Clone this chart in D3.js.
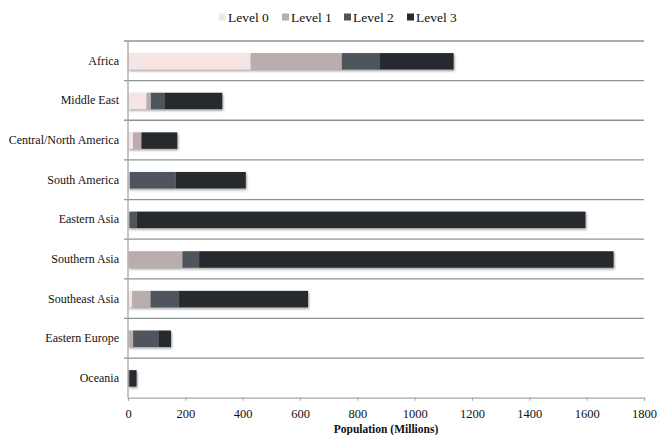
<!DOCTYPE html>
<html><head><meta charset="utf-8">
<script src="https://cdn.jsdelivr.net/npm/d3@7"></script>
<style>
html,body{margin:0;padding:0;background:#fff;}
svg{display:block;}
</style></head>
<body>
<svg id="chart" width="657" height="435"></svg>
<script>
const categories = ["Africa","Middle East","Central/North America","South America","Eastern Asia","Southern Asia","Southeast Asia","Eastern Europe","Oceania"];
const levels = ["Level 0","Level 1","Level 2","Level 3"];
const level0 = [428, 65, 18, 2, 2, 2, 15, 2, 0];
const level1 = [318, 15, 28, 5, 3, 188, 64, 16, 1];
const level2 = [131, 49, 2, 159, 25, 58, 99, 88, 6];
const level3 = [259, 200, 124, 245, 1566, 1446, 450, 44, 23];
const xTicks = [0,200,400,600,800,1000,1200,1400,1600,1800];
const colors = ["#f7e4e5","#b9adae","#50545c","#272b2d"];
const FONT = "Liberation Serif";

const rows = categories.map((c,i)=>({cat:c,"Level 0":level0[i],"Level 1":level1[i],"Level 2":level2[i],"Level 3":level3[i]}));
const stacked = d3.stack().keys(levels)(rows);

const svg = d3.select("#chart");
const m = {left:128, right:644, top:41, bottom:397.7};
const x = d3.scaleLinear().domain([0,1800]).range([m.left,m.right]);
const y = d3.scaleBand().domain(categories).range([m.top,m.bottom]).paddingInner(0).paddingOuter(0);
const barH = 16.5;

const defs = svg.append("defs");
const f = defs.append("filter").attr("id","sh").attr("x","-5%").attr("y","-30%").attr("width","115%").attr("height","180%");
f.append("feDropShadow").attr("dx",1).attr("dy",1.5).attr("stdDeviation",1).attr("flood-color","#777").attr("flood-opacity",0.7);

const bounds = categories.map(c=>y(c));
svg.append("g").selectAll("line").data(bounds).join("line")
  .attr("x1",m.left-4).attr("x2",m.right)
  .attr("y1",d=>d).attr("y2",d=>d)
  .attr("stroke","#8c9395").attr("stroke-width",1.3);

const barsG = svg.append("g").attr("filter","url(#sh)");
barsG.selectAll("g").data(stacked).join("g")
  .attr("fill",(d,i)=>colors[i])
  .selectAll("rect").data(d=>d).join("rect")
  .attr("x",d=>x(d[0]))
  .attr("width",d=>Math.max(0,x(d[1])-x(d[0])))
  .attr("y",d=>y(d.data.cat)+y.bandwidth()/2-barH/2+0.5)
  .attr("height",barH);

svg.append("line").attr("x1",m.left).attr("x2",m.left).attr("y1",m.top).attr("y2",m.bottom)
  .attr("stroke","#a3a8a9").attr("stroke-width",1.3);
svg.append("g").selectAll("text").data(categories).join("text")
  .attr("x",119).attr("y",d=>y(d)+y.bandwidth()/2+4)
  .attr("text-anchor","end").attr("font-family",FONT).attr("font-size",12).attr("fill","#111")
  .text(d=>d);

const xa = svg.append("g").attr("transform",`translate(0,${m.bottom})`)
  .call(d3.axisBottom(x).tickValues(xTicks).tickSize(3).tickPadding(8).tickFormat(d3.format("d")));
xa.attr("font-family",FONT);
xa.select(".domain").attr("stroke","#a3a8a9").attr("stroke-width",1.3);
xa.selectAll(".tick line").attr("stroke","#a3a8a9");
xa.selectAll("text").attr("font-family",FONT).attr("font-size",12.5).attr("fill","#111");

svg.append("text").attr("x",386).attr("y",433).attr("text-anchor","middle")
  .attr("font-family",FONT).attr("font-weight","bold").attr("font-size",11.5).attr("fill","#111")
  .text("Population (Millions)");

const legX = [219,282,344,407];
const lg = svg.append("g").selectAll("g").data(levels).join("g")
  .attr("transform",(d,i)=>`translate(${legX[i]},0)`);
lg.append("rect").attr("x",0).attr("y",13.5).attr("width",7).attr("height",7).attr("fill",(d,i)=>colors[i]);
lg.append("text").attr("x",9).attr("y",22).attr("font-family",FONT).attr("font-size",13.5).attr("fill","#111").text(d=>d);
</script>
</body></html>
